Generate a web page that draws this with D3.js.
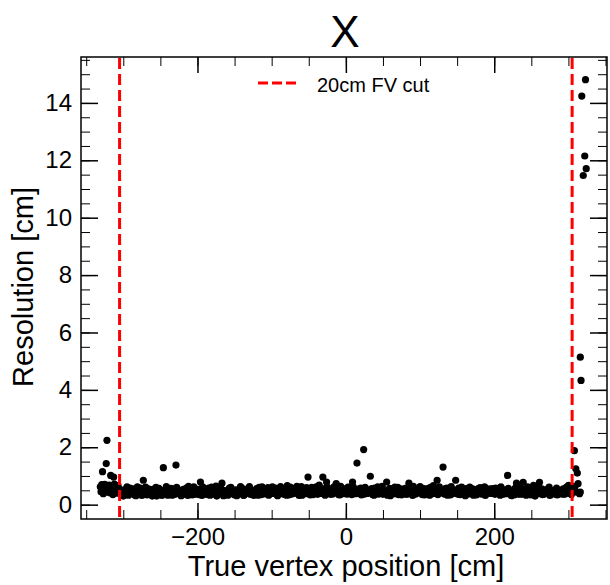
<!DOCTYPE html>
<html>
<head>
<meta charset="utf-8">
<script src="https://cdn.jsdelivr.net/npm/d3@7"></script>
<style>
body { margin: 0; background: #fff; }
text { font-family: "Liberation Sans", Arial, sans-serif; fill: #000; }
</style>
</head>
<body>
<div id="vis"></div>
<script>
// ---- data ----
// points left of the left FV cut
const LEFT_EDGE_PTS = [[-331,0.62],[-330,0.45],[-329,0.70],[-328,1.15],[-327,0.38],[-326,0.60],[-325,0.71],
  [-324,0.44],[-323,1.43],[-322,2.24],[-321,0.52],[-320,0.66],[-319,0.68],[-318,0.41],[-317,1.02],[-316,0.47],
  [-315,0.58],[-314,0.35],[-313,0.96],[-312,0.72],[-311,0.49],[-310,0.63],[-309,0.50],[-308,0.40],[-307,0.66],
  [-306,0.55]];

// main band between the cuts
const BAND_PTS = [
  [-303,0.44],[-301,0.36],[-298,0.52],[-296,0.41],[-293,0.33],[-291,0.58],[-288,0.39],[-286,0.47],[-283,0.31],
  [-281,0.62],[-278,0.43],[-276,0.37],[-273,0.85],[-271,0.49],[-268,0.34],[-266,0.55],[-263,0.40],[-261,0.30],
  [-258,0.46],[-256,0.60],[-253,0.38],[-251,0.44],[-248,0.32],[-246,1.29],[-244,0.51],[-241,0.36],[-239,0.42],
  [-236,0.57],[-234,0.33],[-231,0.48],[-229,1.38],[-227,0.39],[-224,0.45],[-222,0.31],[-219,0.53],[-217,0.41],
  [-214,0.36],[-212,0.64],[-209,0.43],[-207,0.34],[-204,0.50],[-202,0.38],
  [-199,0.46],[-196,0.79],[-194,0.32],[-191,0.55],[-189,0.40],[-186,0.35],[-184,0.49],[-181,0.61],[-179,0.37],
  [-176,0.44],[-174,0.30],[-171,0.52],[-169,0.41],[-167,0.75],[-164,0.36],[-162,0.47],[-159,0.33],[-157,0.58],
  [-154,0.42],[-152,0.38],[-149,0.50],[-147,0.31],[-144,0.45],[-142,0.63],[-139,0.39],[-137,0.34],[-134,0.48],
  [-132,0.56],[-129,0.37],[-127,0.43],[-124,0.32],[-122,0.51],[-119,0.40],[-117,0.60],[-114,0.35],[-112,0.46],
  [-109,0.38],[-107,0.54],[-104,0.33],[-102,0.44],
  [-99,0.62],[-97,0.39],[-94,0.47],[-92,0.31],[-89,0.55],[-87,0.42],[-84,0.36],[-82,0.49],[-79,0.66],[-77,0.34],
  [-74,0.45],[-72,0.40],[-69,0.57],[-66,0.64],[-64,0.37],[-61,0.48],[-59,0.33],[-56,0.52],[-54,0.42],[-51,0.96],
  [-49,0.38],[-46,0.60],[-44,0.35],[-41,0.50],[-39,0.44],[-36,0.68],[-34,0.39],[-31,0.96],[-29,0.47],[-26,0.79],
  [-24,0.56],[-21,0.36],[-19,0.45],[-16,0.62],[-13,0.73],[-11,0.41],[-8,0.34],[-6,0.53],[-3,0.43],[-1,0.38],
  [3,0.61],[5,0.46],[8,0.35],[9,0.79],[12,0.52],[15,1.45],[17,0.40],[20,0.58],[24,1.92],[25,0.37],[28,0.49],
  [30,0.44],[33,0.99],[35,0.56],[38,0.33],[40,0.47],[43,0.62],[45,0.39],[48,0.51],[50,0.36],[53,0.43],[55,0.79],
  [58,0.41],[60,0.31],[63,0.54],[65,0.45],[68,0.38],[70,0.60],[73,0.42],[75,0.34],[78,0.49],[80,0.57],[83,0.37],
  [85,0.75],[88,0.44],[90,0.32],[93,0.53],[95,0.40],[98,0.46],
  [100,0.63],[103,0.35],[105,0.48],[108,0.41],[110,0.56],[113,0.33],[115,0.45],[118,0.66],[120,0.39],[123,0.85],
  [125,0.50],[128,0.43],[131,1.31],[133,0.37],[136,0.58],[138,0.46],[141,0.34],[143,0.52],[146,0.40],[148,0.85],
  [151,0.36],[153,0.48],[156,0.61],[158,0.42],[161,0.31],[163,0.50],[166,0.44],[168,0.38],[171,0.55],[173,0.41],
  [176,0.34],[178,0.47],[181,0.59],[183,0.37],[186,0.45],[188,0.32],[191,0.51],[193,0.43],[196,0.39],[198,0.56],
  [201,0.36],[203,0.48],[206,0.41],[208,0.33],[211,0.53],[213,0.45],[216,0.38],[218,1.02],[221,0.47],[223,0.31],
  [226,0.42],[228,0.57],[230,0.75],[233,0.36],[235,0.49],[239,0.78],[240,0.40],[243,0.33],[245,0.62],[248,0.44],
  [250,0.37],[253,0.67],[255,0.30],[258,0.52],[261,0.78],[263,0.41],[265,0.35],[268,0.48],[270,0.39],[273,0.56],
  [275,0.32],[278,0.45],[280,0.40],[283,0.51],[285,0.34],[288,0.43],[290,0.38],[293,0.55],[295,0.36],[298,0.47],
  [300,0.67],[302,0.42],[304,0.35]];

// second layer of the band (the band is dense, dots overlap)
const BAND_PTS_2 = [
  [-302,0.51],[-300,0.30],[-297,0.45],[-295,0.62],[-292,0.38],[-290,0.43],[-287,0.55],[-285,0.34],[-282,0.47],
  [-280,0.40],[-277,0.58],[-275,0.32],[-272,0.44],[-270,0.61],[-267,0.39],[-265,0.46],[-262,0.35],[-260,0.53],
  [-257,0.41],[-255,0.30],[-252,0.57],[-250,0.37],[-247,0.48],[-245,0.42],[-242,0.63],[-240,0.33],[-237,0.46],
  [-235,0.39],[-232,0.55],[-230,0.36],[-228,0.60],[-225,0.43],[-223,0.50],[-220,0.35],[-218,0.47],[-215,0.58],
  [-213,0.32],[-210,0.45],[-208,0.40],[-205,0.62],[-203,0.37],[-200,0.53],
  [-198,0.35],[-195,0.48],[-193,0.62],[-190,0.37],[-188,0.44],[-185,0.58],[-183,0.33],[-180,0.46],[-178,0.40],
  [-175,0.65],[-173,0.38],[-170,0.43],[-168,0.55],[-165,0.31],[-163,0.49],[-160,0.41],[-158,0.36],[-155,0.60],
  [-153,0.45],[-150,0.34],[-148,0.52],[-145,0.39],[-143,0.47],[-140,0.58],[-138,0.32],[-135,0.43],[-133,0.40],
  [-130,0.63],[-128,0.36],[-125,0.49],[-123,0.44],[-120,0.56],[-118,0.33],[-115,0.47],[-113,0.62],[-110,0.38],
  [-108,0.45],[-105,0.59],[-103,0.36],[-100,0.48],
  [-98,0.41],[-95,0.58],[-93,0.35],[-90,0.44],[-88,0.63],[-85,0.39],[-83,0.47],[-80,0.33],[-78,0.52],[-75,0.61],
  [-73,0.37],[-70,0.46],[-68,0.40],[-65,0.55],[-63,0.32],[-60,0.63],[-58,0.44],[-55,0.38],[-53,0.59],[-50,0.45],
  [-48,0.34],[-45,0.52],[-43,0.41],[-40,0.62],[-38,0.36],[-35,0.47],[-33,0.58],[-30,0.40],[-28,0.33],[-25,0.61],
  [-23,0.44],[-20,0.50],[-18,0.37],[-15,0.46],[-12,0.57],[-10,0.35],[-7,0.64],[-5,0.40],[-2,0.48],[0,0.56],
  [2,0.37],[4,0.52],[7,0.44],[10,0.62],[13,0.38],[16,0.47],[18,0.55],[21,0.34],[23,0.45],[26,0.60],[29,0.39],
  [31,0.51],[34,0.42],[36,0.35],[39,0.58],[41,0.46],[44,0.37],[46,0.53],[49,0.64],[51,0.40],[54,0.49],[56,0.33],
  [59,0.57],[61,0.44],[64,0.38],[66,0.61],[69,0.46],[71,0.35],[74,0.55],[76,0.41],[79,0.48],[81,0.36],[84,0.59],
  [86,0.43],[89,0.51],[91,0.64],[94,0.37],[96,0.45],[99,0.55],
  [101,0.40],[104,0.57],[106,0.34],[109,0.47],[111,0.43],[114,0.60],[116,0.38],[119,0.52],[121,0.45],[124,0.35],
  [126,0.62],[129,0.41],[132,0.48],[134,0.56],[137,0.33],[139,0.44],[142,0.63],[144,0.39],[147,0.50],[149,0.45],
  [152,0.58],[154,0.35],[157,0.47],[159,0.40],[162,0.56],[164,0.37],[167,0.61],[169,0.46],[172,0.33],[174,0.52],
  [177,0.42],[179,0.57],[182,0.39],[184,0.48],[187,0.62],[189,0.36],[192,0.45],[194,0.55],[197,0.40],[199,0.47],
  [202,0.58],[204,0.39],[207,0.46],[209,0.62],[212,0.36],[214,0.50],[217,0.43],[219,0.57],[222,0.38],[224,0.47],
  [227,0.34],[229,0.52],[232,0.44],[234,0.60],[237,0.36],[238,0.55],[241,0.47],[244,0.39],[246,0.53],[249,0.34],
  [251,0.58],[254,0.42],[256,0.48],[259,0.38],[260,0.62],[262,0.45],[264,0.55],[267,0.36],[269,0.52],[272,0.43],
  [274,0.61],[277,0.38],[279,0.49],[282,0.36],[284,0.58],[287,0.42],[289,0.50],[292,0.37],[294,0.45],[297,0.60],
  [299,0.40],[301,0.52],[303,0.46]];

// points right of the right FV cut
const RIGHT_EDGE_PTS = [[305,0.62],[306,0.50],[307,0.45],[308,1.88],[309,0.64],[310,1.25],[311,0.44],[312,1.10],
  [313,0.73],[315,0.38],[316,0.44],[316,5.14],[317,4.33],[318,14.24],[320,11.47],[322,12.15],[323,14.81],[324,11.71]];

const FV_CUTS = [-305, 305];
const X_TICKS = [-200, 0, 200];
const Y_TICKS = [0, 2, 4, 6, 8, 10, 12, 14];
const X_DOMAIN = [-357, 352];
const Y_DOMAIN = [-0.5, 15.6];

// ---- layout ----
const FRAME_WIDTH = 610;
const FRAME_HEIGHT = 585;
const MARGINS = {left: 81, right: 3, top: 57, bottom: 66};
const VIS_WIDTH = FRAME_WIDTH - MARGINS.left - MARGINS.right;
const VIS_HEIGHT = FRAME_HEIGHT - MARGINS.top - MARGINS.bottom;

const FRAME = d3.select("#vis")
  .append("svg")
    .attr("width", FRAME_WIDTH)
    .attr("height", FRAME_HEIGHT);

const X_SCALE = d3.scaleLinear().domain(X_DOMAIN).range([0, VIS_WIDTH]);
const Y_SCALE = d3.scaleLinear().domain(Y_DOMAIN).range([VIS_HEIGHT, 0]);

const PLOT = FRAME.append("g")
  .attr("transform", "translate(" + MARGINS.left + "," + MARGINS.top + ")");

// minor ticks every 50 cm / 0.5 cm
const X_MINOR = d3.range(-350, 351, 50);
const Y_MINOR = d3.range(0, 15.6, 0.5);

function styleAxis(g, width) {
  g.select(".domain").remove();
  g.selectAll(".tick line").attr("stroke", "#000").attr("stroke-width", width);
}

// bottom
PLOT.append("g").attr("transform", "translate(0," + VIS_HEIGHT + ")")
  .call(d3.axisBottom(X_SCALE).tickValues(X_MINOR).tickSize(-9).tickSizeOuter(0).tickFormat(""))
  .call(g => styleAxis(g, 1));
PLOT.append("g").attr("transform", "translate(0," + VIS_HEIGHT + ")")
  .call(d3.axisBottom(X_SCALE).tickValues(X_TICKS).tickSize(-16).tickSizeOuter(0).tickPadding(9))
  .call(g => styleAxis(g, 1.5))
  .selectAll("text").attr("font-size", 24);
// top
PLOT.append("g")
  .call(d3.axisTop(X_SCALE).tickValues(X_MINOR).tickSize(-9).tickSizeOuter(0).tickFormat(""))
  .call(g => styleAxis(g, 1));
PLOT.append("g")
  .call(d3.axisTop(X_SCALE).tickValues(X_TICKS).tickSize(-16).tickSizeOuter(0).tickFormat(""))
  .call(g => styleAxis(g, 1.5));
// left
PLOT.append("g")
  .call(d3.axisLeft(Y_SCALE).tickValues(Y_MINOR).tickSize(-9).tickSizeOuter(0).tickFormat(""))
  .call(g => styleAxis(g, 1));
PLOT.append("g")
  .call(d3.axisLeft(Y_SCALE).tickValues(Y_TICKS).tickSize(-17).tickSizeOuter(0).tickPadding(9))
  .call(g => styleAxis(g, 1.5))
  .selectAll("text").attr("font-size", 24);
// right
PLOT.append("g").attr("transform", "translate(" + VIS_WIDTH + ",0)")
  .call(d3.axisRight(Y_SCALE).tickValues(Y_MINOR).tickSize(-9).tickSizeOuter(0).tickFormat(""))
  .call(g => styleAxis(g, 1));
PLOT.append("g").attr("transform", "translate(" + VIS_WIDTH + ",0)")
  .call(d3.axisRight(Y_SCALE).tickValues(Y_TICKS).tickSize(-17).tickSizeOuter(0).tickFormat(""))
  .call(g => styleAxis(g, 1.5));

PLOT.selectAll("text").attr("font-family", "'Liberation Sans', Arial, sans-serif").attr("fill", "#000");

// frame
PLOT.append("rect")
  .attr("width", VIS_WIDTH).attr("height", VIS_HEIGHT)
  .attr("fill", "none").attr("stroke", "#000").attr("stroke-width", 1.5);

// points
const ALL_PTS = LEFT_EDGE_PTS.concat(BAND_PTS, BAND_PTS_2, RIGHT_EDGE_PTS);
PLOT.selectAll(".pt")
  .data(ALL_PTS)
  .enter()
  .append("circle")
    .attr("class", "pt")
    .attr("cx", d => X_SCALE(d[0]))
    .attr("cy", d => Y_SCALE(d[1]))
    .attr("r", 3.6)
    .attr("fill", "#000");

// FV cut lines
PLOT.selectAll(".cut")
  .data(FV_CUTS)
  .enter()
  .append("line")
    .attr("class", "cut")
    .attr("x1", d => X_SCALE(d)).attr("x2", d => X_SCALE(d))
    .attr("y1", 1).attr("y2", VIS_HEIGHT - 1)
    .attr("stroke", "#f00").attr("stroke-width", 3)
    .attr("stroke-dasharray", "11,5");

// legend
PLOT.append("line")
  .attr("x1", 177).attr("x2", 218).attr("y1", 26).attr("y2", 26)
  .attr("stroke", "#f00").attr("stroke-width", 3)
  .attr("stroke-dasharray", "10,4");
PLOT.append("text")
  .attr("x", 236).attr("y", 35)
  .attr("font-size", 20)
  .text("20cm FV cut");

// title + axis titles
FRAME.append("text")
  .attr("x", 345).attr("y", 47)
  .attr("text-anchor", "middle")
  .attr("font-size", 44)
  .text("X");
FRAME.append("text")
  .attr("x", 346).attr("y", 576)
  .attr("text-anchor", "middle")
  .attr("font-size", 29)
  .text("True vertex position [cm]");
FRAME.append("text")
  .attr("transform", "translate(33,287) rotate(-90)")
  .attr("text-anchor", "middle")
  .attr("font-size", 29)
  .text("Resolution [cm]");
</script>
</body>
</html>
